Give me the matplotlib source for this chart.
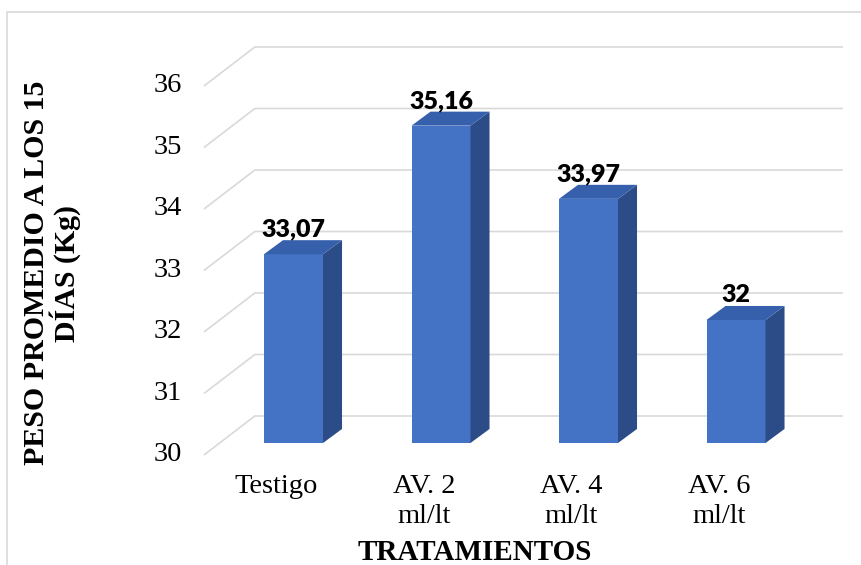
import matplotlib.pyplot as plt
from matplotlib.patches import Polygon, Rectangle

categorias = ["Testigo", "AV. 2\nml/lt", "AV. 4\nml/lt", "AV. 6\nml/lt"]
pesos = [33.07, 35.16, 33.97, 32]
etiquetas = ["33,07", "35,16", "33,97", "32"]
ticks_y = [30, 31, 32, 33, 34, 35, 36]

# pixel scale of the plot (x: one category step, y: one kg)
W, H = 862, 565
X0, SX = 293.5, 147.5
Y0, SY = 443, 61.5
base = 30

# 3D look: offsets in data units
ancho = 0.4
prof_dx, prof_dy = 0.129, 0.228       # depth of each bar
frente_dx, frente_dy = -0.108, -0.195  # floor front edge relative to bar front
fondo_dx, fondo_dy = 0.237, 0.439      # back wall relative to bar front
x_izq = -0.607
x_der = 3.725

c_frente = "#4472C4"
c_lado = "#2C4C87"
c_tope = "#3660AB"
c_grid = "#D9D9D9"

plt.rcParams['font.family'] = ['Liberation Serif', 'DejaVu Serif']

fig = plt.figure(figsize=(W / 100, H / 100), dpi=100)
ax = fig.add_axes([0, 0, 1, 1])
ax.set_xlim(-X0 / SX, (W - X0) / SX)
ax.set_ylim(base - (H - Y0) / SY, base + Y0 / SY)
ax.axis("off")

# chart border
fig.patches.append(Rectangle((7 / W, -0.1), 1.2, 1 - 12 / H + 0.1,
                             transform=fig.transFigure, fill=False,
                             edgecolor=c_grid, lw=1.2))

# gridlines: slanted side wall + back wall
for v in ticks_y:
    xs = [x_izq, x_izq + (fondo_dx - frente_dx), x_der]
    ys = [v + frente_dy, v + fondo_dy, v + fondo_dy]
    ax.plot(xs, ys, color=c_grid, lw=1.2, zorder=1, solid_capstyle="butt")
    ax.text(x_izq - 0.149, v + frente_dy, str(v), ha="right", va="center",
            fontsize=20.5, color="#000000")

# bars
for i, v in enumerate(pesos):
    ax.bar(i, v - base, bottom=base, width=ancho, color=c_frente, zorder=3)
    xr = i + ancho / 2
    xl = i - ancho / 2
    lado = Polygon([(xr, base), (xr + prof_dx, base + prof_dy),
                    (xr + prof_dx, v + prof_dy), (xr, v)],
                   closed=True, facecolor=c_lado, edgecolor="none", zorder=3)
    tope = Polygon([(xl, v), (xr, v), (xr + prof_dx, v + prof_dy),
                    (xl + prof_dx, v + prof_dy)],
                   closed=True, facecolor=c_tope, edgecolor="none", zorder=3)
    ax.add_patch(lado)
    ax.add_patch(tope)
    ax.text(i, v + prof_dy + 0.06, etiquetas[i], ha="center", va="baseline",
            fontsize=18, fontweight="heavy", family=["Lato", "DejaVu Sans"],
            zorder=4)
    ax.text(i - 0.115, base - 31 / SY, categorias[i], ha="center", va="top",
            fontsize=20.5, linespacing=1.25)

fig.text(475 / W, 1 - 560 / H, "TRATAMIENTOS", ha="center", va="baseline",
         fontsize=21, fontweight="bold")
fig.text(52 / W, 1 - 273 / H, "PESO PROMEDIO A LOS 15\nDÍAS (Kg)",
         ha="center", va="center", rotation=90, fontsize=21.5,
         fontweight="bold", linespacing=0.95, multialignment="center")

fig.savefig("out.png", dpi=100)
